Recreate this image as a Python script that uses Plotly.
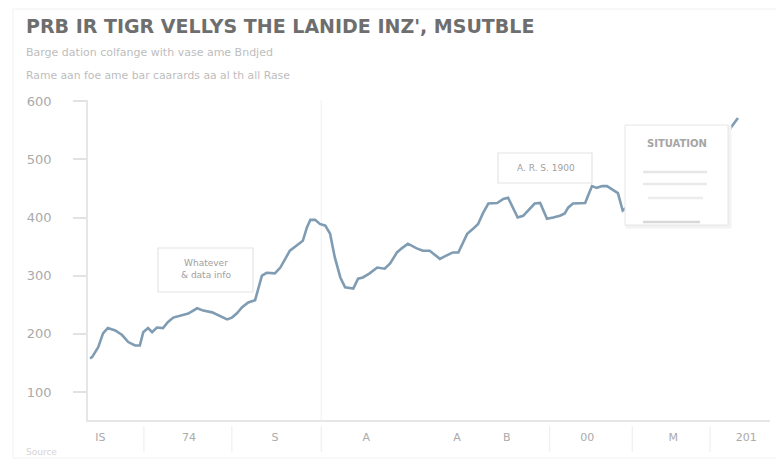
import plotly.graph_objects as go

# ---- data ----
x_vals = [0.3, 0.6, 1.5, 2.2, 2.9, 4.0, 5.0, 5.9, 6.9, 7.6, 8.1, 8.8, 9.4, 10.1, 11.0, 11.7,
          12.5, 13.8, 14.7, 16.0, 16.9, 18.2, 19.1, 20.4, 21.1, 21.8, 22.6, 23.5, 24.5, 24.9,
          25.5, 26.2, 27.4, 28.2, 28.9, 29.6, 30.6, 31.5, 32.1, 32.6, 33.3, 34.0, 34.8, 35.5,
          35.9, 36.2, 37.0, 37.7, 38.9, 39.6, 40.3, 41.3, 42.4, 43.5, 44.3, 45.3, 46.0, 46.9,
          48.2, 49.1, 50.1, 50.9, 51.6, 52.6, 53.5, 54.3, 55.0, 55.6, 56.5, 57.2, 57.9, 58.7,
          60.0, 60.9, 61.6, 62.3, 63.0, 63.8, 64.5, 65.5, 66.3, 66.7, 67.3, 68.2, 69.2, 69.9,
          70.4, 71.1, 72.1, 72.9, 73.3, 73.9, 74.6, 75.4, 76.1, 76.8, 77.7, 78.4, 83.9, 89.7,
          93.4, 94.3, 95.3]
y_vals = [158, 160, 177, 201, 210, 206, 198, 186, 180, 180, 203, 210, 203, 211, 210, 220,
          228, 232, 235, 244, 240, 237, 232, 225, 228, 235, 246, 254, 258, 275,
          300, 305, 304, 314, 329, 343, 352, 360, 383, 396, 396, 389, 386, 372,
          348, 331, 297, 280, 278, 295, 297, 304, 314, 312, 321, 340, 347, 355,
          347, 343, 343, 335, 329, 335, 340, 340, 357, 372, 381, 389, 407, 424,
          425, 432, 434, 417, 400, 403, 412, 424, 425, 415, 398, 400, 403, 407,
          417, 424, 425, 425, 437, 454, 451, 454, 454, 449, 442, 412, 463, 497,
          540, 555, 571]

x_tick_pos = [1.8, 14.8, 27.4, 40.8, 54.1, 61.4, 73.2, 85.8, 96.5]
x_tick_text = ["IS", "74", "S", "A", "A", "B", "00", "M", "201"]
x_separators = [8.2, 21.1, 34.2, 67.7, 79.8, 91.2]
y_tick_vals = [100, 200, 300, 400, 500, 600]
y_tick_text = ["100", "200", "300", "400", "500", "600"]

title_text = "PRB IR TIGR VELLYS THE LANIDE INZ', MSUTBLE"
subtitle_1 = "Barge dation colfange with vase ame Bndjed"
subtitle_2 = "Rame aan foe ame bar caarards aa al th all Rase"

FONT = "DejaVu Sans, Verdana, sans-serif"

fig = go.Figure()
fig.add_trace(go.Scatter(
    x=x_vals, y=y_vals, mode="lines",
    line=dict(color="#7f9cb3", width=2.6, shape="linear"),
    hoverinfo="skip", showlegend=False,
))

OFF = 8  # page body margin
W, H = 784 - OFF, 464 - OFF
L, R, T, B = 80, 14, 92, 44
pw, ph = W - L - R, H - T - B


def px(xp):
    return (xp - OFF - L) / pw


def py(yp):
    return (H - B - (yp - OFF)) / ph


shapes = []
# outer card
shapes.append(dict(type="rect", xref="paper", yref="paper", x0=px(13), x1=px(777),
                   y0=py(458), y1=py(9), line=dict(color="#f1f1f1", width=1),
                   fillcolor="rgba(0,0,0,0)", layer="below"))
# separators in x label band
for s in x_separators:
    shapes.append(dict(type="line", xref="x", yref="paper", x0=s, x1=s,
                       y0=py(426), y1=py(452), line=dict(color="#ececec", width=1)))
# faint vertical guide
shapes.append(dict(type="line", xref="x", yref="paper", x0=x_separators[2], x1=x_separators[2],
                   y0=0, y1=1, line=dict(color="#f0f0f0", width=1), layer="below"))
# annotation boxes
shapes.append(dict(type="rect", xref="paper", yref="paper", x0=px(158), x1=px(253),
                   y0=py(292), y1=py(248), line=dict(color="#e4e4e4", width=1.2),
                   fillcolor="white", layer="above"))
shapes.append(dict(type="rect", xref="paper", yref="paper", x0=px(498), x1=px(592),
                   y0=py(183), y1=py(153), line=dict(color="#e4e4e4", width=1.2),
                   fillcolor="white", layer="above"))
shapes.append(dict(type="rect", xref="paper", yref="paper", x0=px(627), x1=px(730),
                   y0=py(227), y1=py(127), line=dict(color="#f3f3f3", width=3),
                   fillcolor="#f3f3f3", layer="above"))
shapes.append(dict(type="rect", xref="paper", yref="paper", x0=px(625), x1=px(728),
                   y0=py(225), y1=py(125), line=dict(color="#e6e6e6", width=1),
                   fillcolor="white", layer="above"))
# faint lines in the big box
for (a, b, yy, c) in [(643, 707, 172, "#e6e6e6"), (643, 707, 184, "#e9e9e9"),
                      (648, 703, 198, "#ececec"), (643, 700, 222, "#d8d8d8")]:
    shapes.append(dict(type="line", xref="paper", yref="paper", x0=px(a), x1=px(b),
                       y0=py(yy), y1=py(yy), line=dict(color=c, width=2.5), layer="above"))

annotations = [
    dict(text=title_text, xref="paper", yref="paper", x=px(24), y=py(26), xanchor="left",
         yanchor="middle", showarrow=False,
         font=dict(family=FONT, size=19, color="#6e6e6e", weight="bold")),
    dict(text=subtitle_1, xref="paper", yref="paper", x=px(24), y=py(52), xanchor="left",
         yanchor="middle", showarrow=False,
         font=dict(family=FONT, size=11, color="#bdbdbd")),
    dict(text=subtitle_2, xref="paper", yref="paper", x=px(24), y=py(75), xanchor="left",
         yanchor="middle", showarrow=False,
         font=dict(family=FONT, size=10.8, color="#bdbdbd")),
    dict(text="Whatever<br>& data info", xref="paper", yref="paper", x=px(206), y=py(269),
         xanchor="center", yanchor="middle", showarrow=False,
         font=dict(family=FONT, size=9, color="#a0a0a0")),
    dict(text="A. R. S. 1900", xref="paper", yref="paper", x=px(546), y=py(168),
         xanchor="center", yanchor="middle", showarrow=False,
         font=dict(family=FONT, size=9, color="#a0a0a0")),
    dict(text="SITUATION", xref="paper", yref="paper", x=px(677), y=py(143),
         xanchor="center", yanchor="middle", showarrow=False,
         font=dict(family=FONT, size=10, color="#a5a5a5", weight="bold")),
    dict(text="Source", xref="paper", yref="paper", x=px(24), y=py(452), xanchor="left",
         yanchor="middle", showarrow=False,
         font=dict(family=FONT, size=9, color="#d4d4d4")),
]

fig.update_layout(
    width=W, height=H,
    margin=dict(l=L, r=R, t=T, b=B),
    paper_bgcolor="white", plot_bgcolor="white",
    shapes=shapes, annotations=annotations,
    font=dict(family=FONT, color="#aaaaaa"),
    xaxis=dict(range=[0, 100], showgrid=False, zeroline=False,
               showline=True, linecolor="#e6e6e6", linewidth=1.5,
               tickmode="array", tickvals=x_tick_pos, ticktext=x_tick_text,
               ticks="", tickfont=dict(size=11, color="#aaaaaa"), ticklabelstandoff=6),
    yaxis=dict(range=[52, 602], showgrid=False, zeroline=False,
               showline=True, linecolor="#e6e6e6", linewidth=1.5,
               tickmode="array", tickvals=y_tick_vals, ticktext=y_tick_text,
               ticks="outside", ticklen=13, tickcolor="#e2e2e2", tickwidth=1.5,
               tickfont=dict(size=13, color="#aaaaaa"), ticklabelstandoff=19),
)

fig.write_html("out.html")
